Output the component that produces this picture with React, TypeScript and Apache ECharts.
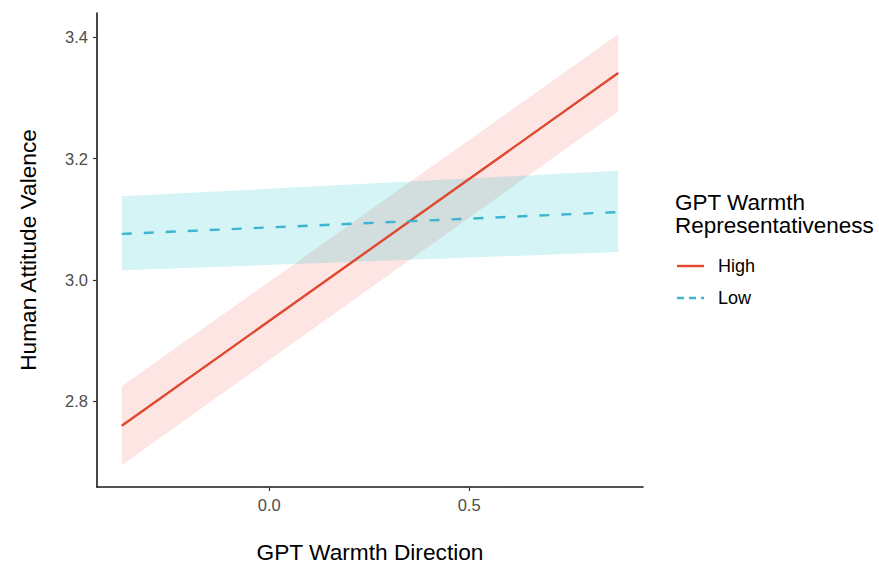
import React, { useEffect, useRef } from "react";
import * as echarts from "echarts";

// ---- data ----
const xEnds = [-0.369, 0.873];
const groupNames = ["High", "Low"];
const legendTitle = ["GPT Warmth", "Representativeness"];
const highFit = [2.76, 3.341];
const highLower = [2.695, 3.278];
const highUpper = [2.825, 3.405];
const lowFit = [3.076, 3.112];
const lowLower = [3.016, 3.046];
const lowUpper = [3.138, 3.18];
const xTicks = [0, 0.5];
const yTicks = [2.8, 3.0, 3.2, 3.4];

const RED = "#E0472F";
const CYAN = "#3DB5CE";
const FONT = "'Liberation Sans', Arial, sans-serif";

function bandSeries(name: string, lower: number[], upper: number[], fill: string) {
  const data = xEnds.map((x, i) => [x, lower[i], upper[i]]);
  return {
    type: "custom",
    name: name + " band",
    data,
    encode: { x: 0, y: [1, 2] },
    silent: true,
    z: 1,
    renderItem: (params: any, api: any) => {
      if (params.dataIndex !== 0) return null;
      const top = data.map((d) => api.coord([d[0], d[2]]));
      const bottom = data
        .slice()
        .reverse()
        .map((d) => api.coord([d[0], d[1]]));
      return {
        type: "polygon",
        shape: { points: [...top, ...bottom] },
        style: { fill },
      };
    },
  };
}

export default function App() {
  const ref = useRef<HTMLDivElement>(null);
  useEffect(() => {
    if (!ref.current) return;
    const chart = echarts.init(ref.current, undefined, { renderer: "svg" });
    chart.setOption({
      animation: false,
      backgroundColor: "#ffffff",
      textStyle: { fontFamily: FONT },
      grid: { left: 97, right: 236, top: 13, bottom: 74, containLabel: false },
      xAxis: {
        type: "value",
        min: -0.431,
        max: 0.935,
        name: "GPT Warmth Direction",
        nameLocation: "middle",
        nameGap: 53,
        nameTextStyle: { fontSize: 22.7, color: "#000", fontFamily: FONT },
        splitLine: { show: false },
        axisLine: { show: true, onZero: false, lineStyle: { color: "#1a1a1a", width: 1.6 } },
        axisTick: { show: true, length: 4, customValues: xTicks, lineStyle: { color: "#333", width: 1.2 } },
        axisLabel: {
          customValues: xTicks,
          formatter: (v: number) => v.toFixed(1),
          fontSize: 16.5,
          color: "#4D4D4D",
          margin: 9,
          fontFamily: FONT,
        },
      },
      yAxis: {
        type: "value",
        min: 2.659,
        max: 3.44,
        name: "Human Attitude Valence",
        nameLocation: "middle",
        nameGap: 58,
        nameTextStyle: { fontSize: 22.7, color: "#000", fontFamily: FONT },
        splitLine: { show: false },
        axisLine: { show: true, onZero: false, lineStyle: { color: "#1a1a1a", width: 1.6 } },
        axisTick: { show: true, length: 4, customValues: yTicks, lineStyle: { color: "#333", width: 1.2 } },
        axisLabel: {
          customValues: yTicks,
          formatter: (v: number) => v.toFixed(1),
          fontSize: 16.5,
          color: "#4D4D4D",
          margin: 9,
          fontFamily: FONT,
        },
      },
      series: [
        bandSeries("High", highLower, highUpper, "rgba(235,80,60,0.15)"),
        bandSeries("Low", lowLower, lowUpper, "rgba(0,191,196,0.17)"),
        {
          type: "line",
          name: groupNames[0],
          data: xEnds.map((x, i) => [x, highFit[i]]),
          showSymbol: false,
          symbol: "none",
          z: 3,
          lineStyle: { color: RED, width: 2.4 },
        },
        {
          type: "line",
          name: groupNames[1],
          data: xEnds.map((x, i) => [x, lowFit[i]]),
          showSymbol: false,
          symbol: "none",
          z: 3,
          lineStyle: { color: CYAN, width: 2.4, type: [10, 12] },
        },
      ],
      graphic: [
        {
          type: "text",
          left: 675,
          top: 191,
          style: { text: legendTitle[0], fontSize: 22.5, fill: "#000", fontFamily: FONT },
        },
        {
          type: "text",
          left: 675,
          top: 214,
          style: { text: legendTitle[1], fontSize: 22.5, fill: "#000", fontFamily: FONT },
        },
        {
          type: "line",
          shape: { x1: 677, y1: 266, x2: 704, y2: 266 },
          style: { stroke: RED, lineWidth: 2.4 },
        },
        {
          type: "text",
          left: 718,
          top: 257,
          style: { text: groupNames[0], fontSize: 18, fill: "#000", fontFamily: FONT },
        },
        {
          type: "line",
          shape: { x1: 677, y1: 298, x2: 704, y2: 298 },
          style: { stroke: CYAN, lineWidth: 2.4, lineDash: [7, 5] },
        },
        {
          type: "text",
          left: 718,
          top: 289,
          style: { text: groupNames[1], fontSize: 18, fill: "#000", fontFamily: FONT },
        },
      ],
    });
    return () => chart.dispose();
  }, []);
  return <div ref={ref} style={{ width: 879, height: 568, position: "absolute", left: 0, top: 0 }} />;
}
